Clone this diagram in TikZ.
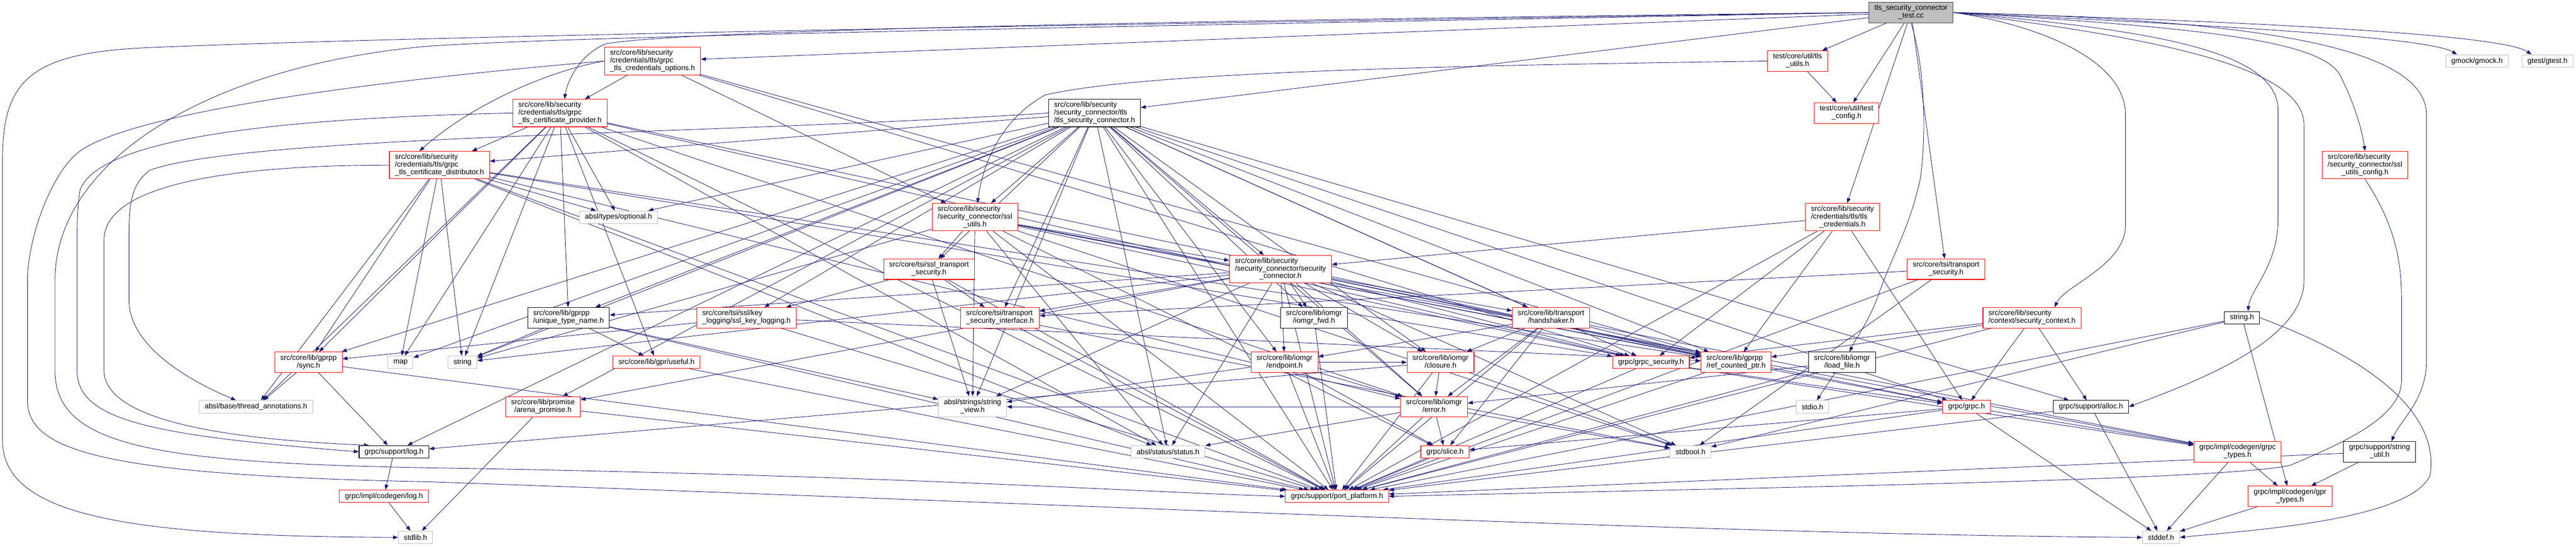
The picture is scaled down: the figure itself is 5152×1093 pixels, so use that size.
\documentclass[tikz,border=0pt]{standalone}
\usepackage{fontspec}
\setmainfont{Liberation Sans}
\usetikzlibrary{arrows.meta}
\definecolor{edgeblue}{HTML}{191970}
\definecolor{extgray}{HTML}{BFBFBF}
\definecolor{hdrred}{HTML}{FF0000}
\pgfdeclarelayer{edges}
\pgfsetlayers{edges,main}
\newcommand\hdrlabel[2]{\begin{tabular}{@{}l@{}}#1\\\multicolumn{1}{@{}c@{}}{#2}\end{tabular}}
\tikzset{file/.style={draw=#1, fill=white, line width=1.1bp,
           inner xsep=11bp, inner ysep=0pt, minimum height=25bp,
           font=\fontsize{14.7bp}{15.3bp}\selectfont},
         file/.default={black},
         hdr/.style={file=hdrred},
         sys/.style={file=extgray},
         two/.style={minimum height=41bp},
         three/.style={minimum height=55bp},
         dep/.style={draw=edgeblue, line width=0.9bp,
           -{Triangle[length=10bp,width=7.5bp]}}}

\begin{document}
\begin{tikzpicture}[x=1bp, y=-1bp]
  \useasboundingbox (0,0) rectangle (5152,1093);
  \node[file=black!75, fill=extgray, two] (root) at (3822,25) {\hdrlabel{tls\_security\_connector}{\_test.cc}};
  \node[hdr, three] (credopt) at (1305,122) {\hdrlabel{src/core/lib/security\\/credentials/tls/grpc}{\_tls\_credentials\_options.h}};
  \node[hdr, two] (tlsutil) at (3595,122) {\hdrlabel{test/core/util/tls}{\_utils.h}};
  \node[sys] (gmock) at (4954,122) {gmock/gmock.h};
  \node[sys] (gtest) at (5095,122) {gtest/gtest.h};
  \node[hdr, three] (provider) at (1120,226) {\hdrlabel{src/core/lib/security\\/credentials/tls/grpc}{\_tls\_certificate\_provider.h}};
  \node[file, three] (tlsconn) at (2189,226) {\hdrlabel{src/core/lib/security\\/security\_connector/tls}{/tls\_security\_connector.h}};
  \node[hdr, two] (testcfg) at (3693,226) {\hdrlabel{test/core/util/test}{\_config.h}};
  \node[hdr, three] (distrib) at (879,330) {\hdrlabel{src/core/lib/security\\/credentials/tls/grpc}{\_tls\_certificate\_distributor.h}};
  \node[hdr, three] (sslcfg) at (4730,330) {\hdrlabel{src/core/lib/security\\/security\_connector/ssl}{\_utils\_config.h}};
  \node[sys] (optional) at (1237,434) {absl/types/optional.h};
  \node[hdr, three] (sslutil) at (1950,434) {\hdrlabel{src/core/lib/security\\/security\_connector/ssl}{\_utils.h}};
  \node[hdr, three] (tlscred) at (3685,434) {\hdrlabel{src/core/lib/security\\/credentials/tls/tls}{\_credentials.h}};
  \node[hdr, two] (ssltsi) at (1858,538) {\hdrlabel{src/core/tsi/ssl\_transport}{\_security.h}};
  \node[hdr, three] (secconn) at (2561,538) {\hdrlabel{src/core/lib/security\\/security\_connector/security}{\_connector.h}};
  \node[hdr, two] (tsisec) at (3892,538) {\hdrlabel{src/core/tsi/transport}{\_security.h}};
  \node[file, two] (utn) at (1137,635) {\hdrlabel{src/core/lib/gprpp}{/unique\_type\_name.h}};
  \node[hdr, two] (keylog) at (1493,635) {\hdrlabel{src/core/tsi/ssl/key}{\_logging/ssl\_key\_logging.h}};
  \node[hdr, two] (tsiif) at (2000,635) {\hdrlabel{src/core/tsi/transport}{\_security\_interface.h}};
  \node[file, two] (iofwd) at (2628,635) {\hdrlabel{src/core/lib/iomgr}{/iomgr\_fwd.h}};
  \node[hdr, two] (hshk) at (3102,635) {\hdrlabel{src/core/lib/transport}{/handshaker.h}};
  \node[hdr, two] (secctx) at (4064,635) {\hdrlabel{src/core/lib/security}{/context/security\_context.h}};
  \node[file] (stringh) at (4484,635) {string.h};
  \node[hdr, two] (sync) at (617,724) {\hdrlabel{src/core/lib/gprpp}{/sync.h}};
  \node[sys] (map) at (801,724) {map};
  \node[sys] (string) at (925,724) {string};
  \node[hdr] (useful) at (1313,724) {src/core/lib/gpr/useful.h};
  \node[hdr, two] (endpoint) at (2569,724) {\hdrlabel{src/core/lib/iomgr}{/endpoint.h}};
  \node[hdr, two] (closure) at (2881,724) {\hdrlabel{src/core/lib/iomgr}{/closure.h}};
  \node[hdr] (grpcsec) at (3302,724) {grpc/grpc\_security.h};
  \node[hdr, two] (refptr) at (3472,724) {\hdrlabel{src/core/lib/gprpp}{/ref\_counted\_ptr.h}};
  \node[file, two] (loadfile) at (3684,724) {\hdrlabel{src/core/lib/iomgr}{/load\_file.h}};
  \node[sys] (thread) at (512,813) {absl/base/thread\_annotations.h};
  \node[hdr, two] (arena) at (1086,813) {\hdrlabel{src/core/lib/promise}{/arena\_promise.h}};
  \node[sys, two] (strview) at (1945,813) {\hdrlabel{absl/strings/string}{\_view.h}};
  \node[hdr, two] (error) at (2868,813) {\hdrlabel{src/core/lib/iomgr}{/error.h}};
  \node[sys] (stdio) at (3625,813) {stdio.h};
  \node[hdr] (grpch) at (3933,813) {grpc/grpc.h};
  \node[file] (alloc) at (4182,813) {grpc/support/alloc.h};
  \node[file] (log) at (788,903) {grpc/support/log.h};
  \node[sys] (status) at (2336,903) {absl/status/status.h};
  \node[hdr] (slice) at (2890,903) {grpc/slice.h};
  \node[sys] (stdbool) at (3381,903) {stdbool.h};
  \node[hdr, two] (grpctypes) at (4475,903) {\hdrlabel{grpc/impl/codegen/grpc}{\_types.h}};
  \node[file, two] (strutil) at (4759,903) {\hdrlabel{grpc/support/string}{\_util.h}};
  \node[hdr] (cglog) at (768,992) {grpc/impl/codegen/log.h};
  \node[hdr] (portpf) at (2674,992) {grpc/support/port\_platform.h};
  \node[hdr, two] (gprtypes) at (4580,992) {\hdrlabel{grpc/impl/codegen/gpr}{\_types.h}};
  \node[sys] (stdlib) at (831,1074) {stdlib.h};
  \node[sys] (stddef) at (4322,1074) {stddef.h};

  \begin{pgfonlayer}{edges}
    \foreach \a/\b in {root/credopt, root/tlsconn, root/tlsutil, root/testcfg, root/tlscred, root/tsisec,
        tlsutil/testcfg, credopt/provider, credopt/sslutil, credopt/grpcsec, credopt/refptr,
        provider/distrib, provider/optional, provider/utn, provider/useful, provider/sync, provider/map,
        provider/string, provider/thread, provider/grpcsec, provider/refptr, provider/error,
        provider/status, provider/portpf,
        distrib/optional, distrib/sync, distrib/map, distrib/string, distrib/thread, distrib/refptr,
        distrib/error, distrib/portpf, distrib/grpcsec, distrib/status,
        tlsconn/distrib, tlsconn/secconn, tlsconn/sslutil, tlsconn/hshk, tlsconn/keylog, tlsconn/ssltsi,
        tlsconn/tsiif, tlsconn/portpf, tlsconn/map, tlsconn/string, tlsconn/status, tlsconn/strview,
        tlsconn/optional, tlsconn/grpch, tlsconn/grpcsec, tlsconn/log, tlsconn/refptr, tlsconn/sync,
        tlsconn/utn, tlsconn/closure, tlsconn/endpoint, tlsconn/error, tlsconn/iofwd, tlsconn/arena,
        tlsconn/alloc,
        sslutil/ssltsi, sslutil/secconn, sslutil/portpf, sslutil/stdbool, sslutil/string, sslutil/strview,
        sslutil/status, sslutil/grpch, sslutil/grpcsec, sslutil/grpctypes, sslutil/slice, sslutil/refptr,
        tlscred/secconn, tlscred/grpcsec, tlscred/refptr, tlscred/portpf, tlscred/grpch,
        ssltsi/tsiif, ssltsi/portpf, ssltsi/strview, ssltsi/keylog,
        keylog/sync, keylog/refptr, keylog/portpf, tsiif/portpf, tsiif/stdbool,
        tsisec/tsiif, tsisec/portpf, tsisec/stdbool,
        secconn/iofwd, secconn/endpoint, secconn/hshk, secconn/closure, secconn/error, secconn/arena,
        secconn/grpcsec, secconn/refptr, secconn/utn, secconn/status, secconn/strview, secconn/portpf,
        secconn/grpch, secconn/tsiif, secconn/stdbool, secconn/string,
        hshk/closure, hshk/error, hshk/endpoint, hshk/slice, hshk/portpf, hshk/refptr, hshk/grpctypes,
        secctx/refptr, secctx/grpcsec, secctx/grpch, secctx/alloc, secctx/portpf,
        stringh/portpf, stringh/stdbool, stringh/gprtypes, strutil/portpf, strutil/gprtypes,
        grpctypes/gprtypes, grpctypes/stddef, gprtypes/stddef, alloc/stddef, alloc/portpf,
        grpch/stddef, grpch/portpf, grpch/grpctypes, grpch/slice,
        grpcsec/portpf, grpcsec/grpch, grpcsec/grpctypes, refptr/portpf,
        loadfile/stdio, loadfile/portpf, loadfile/error, sync/thread, sync/log, sync/portpf,
        log/cglog, cglog/stdlib, utn/string, utn/useful, utn/portpf, utn/strview, useful/portpf,
        arena/stdlib, arena/portpf, closure/error, closure/portpf, closure/stdbool, closure/log,
        error/slice, error/portpf, error/stdbool, error/status, error/strview,
        endpoint/slice, endpoint/portpf, endpoint/strview, endpoint/error, endpoint/closure,
        iofwd/portpf, slice/portpf}
      \draw[dep] (\a) -- (\b);
    \draw[dep] (root.west) .. controls (2400,45) and (900,70) .. (300,95) .. controls (60,105) and (5,160) .. (5,320)
      -- (5,880) .. controls (5,1030) and (250,1072) .. (stdlib.west);
    \draw[dep] (root.west) .. controls (2400,50) and (1200,70) .. (860,92) .. controls (420,130) and (110,320) .. (110,560)
      -- (110,740) .. controls (110,890) and (300,925) .. (860,935) .. controls (1800,950) and (2300,985) .. (portpf.west);
    \draw[dep] (credopt.west) .. controls (700,165) and (250,230) .. (156,305) .. controls (100,350) and (55,480) .. (55,560)
      -- (55,800) .. controls (55,900) and (200,950) .. (860,963) .. controls (2200,1010) and (3500,1070) .. (stddef.west);
    \draw[dep] (provider.west) .. controls (600,235) and (200,270) .. (160,380) .. controls (154,420) and (154,450) .. (154,500)
      -- (154,740) .. controls (154,840) and (300,870) .. (log.west);
    \draw[dep] (distrib.west) .. controls (500,330) and (208,360) .. (208,480)
      -- (208,740) .. controls (208,850) and (500,880) .. ([xshift=-50bp]log.north);
    \draw[dep] (tlsconn.west) .. controls (1400,270) and (500,270) .. (300,340) .. controls (258,370) and (258,420) .. (258,480)
      -- (258,600) .. controls (258,700) and (400,770) .. ([xshift=-40bp]thread.north);
    \draw[dep] (tlsutil.west) .. controls (3000,130) and (2300,140) .. (2090,190) .. controls (2000,240) and (1965,330) .. ([xshift=5bp]sslutil.north);
    \draw[dep] (root.west) .. controls (2400,40) and (1350,60) .. (1210,88) .. controls (1160,110) and (1135,160) .. ([xshift=9bp]provider.north);
    \draw[dep] (credopt.west) .. controls (1080,145) and (930,220) .. ([xshift=-40bp]distrib.north);
    \draw[dep] (root.east) .. controls (4300,45) and (4850,70) .. ([xshift=-40bp]gmock.north);
    \draw[dep] (root.east) .. controls (4400,40) and (5000,65) .. ([xshift=-32bp]gtest.north);
    \draw[dep] (root.east) .. controls (4400,55) and (4640,80) .. (4680,150) .. controls (4710,210) and (4724,260) .. (sslcfg.north);
    \draw[dep] (root.east) .. controls (4300,60) and (4556,100) .. (4556,220) -- (4556,440)
      .. controls (4556,530) and (4500,580) .. ([xshift=12bp]stringh.north);
    \draw[dep] (root.east) .. controls (4350,80) and (4608,140) .. (4608,250) -- (4608,560)
      .. controls (4608,680) and (4400,760) .. (alloc.east);
    \draw[dep] (root.east) .. controls (4500,40) and (4853,90) .. (4853,230) -- (4853,720)
      .. controls (4853,800) and (4800,840) .. ([xshift=24bp]strutil.north);
    \draw[dep] (root.east) .. controls (4050,45) and (4251,110) .. (4251,230) -- (4251,450)
      .. controls (4251,530) and (4130,570) .. ([xshift=45bp]secctx.north);
    \draw[dep] (root.south) .. controls (3855,150) and (3850,300) .. (3840,360) .. controls (3820,450) and (3790,500) .. (3760,580)
      .. controls (3740,640) and (3715,670) .. ([xshift=15bp]loadfile.north);
    \draw[dep] (sslcfg.south) .. controls (4790,450) and (4803,520) .. (4803,600) -- (4803,760)
      .. controls (4803,830) and (4700,880) .. (4580,930) .. controls (4450,960) and (3500,975) .. (portpf.east);
    \draw[dep] (stringh.east) .. controls (4750,720) and (4880,830) .. (4860,950) .. controls (4820,1040) and (4500,1060) .. (stddef.east);
  \end{pgfonlayer}
\end{tikzpicture}
\end{document}
